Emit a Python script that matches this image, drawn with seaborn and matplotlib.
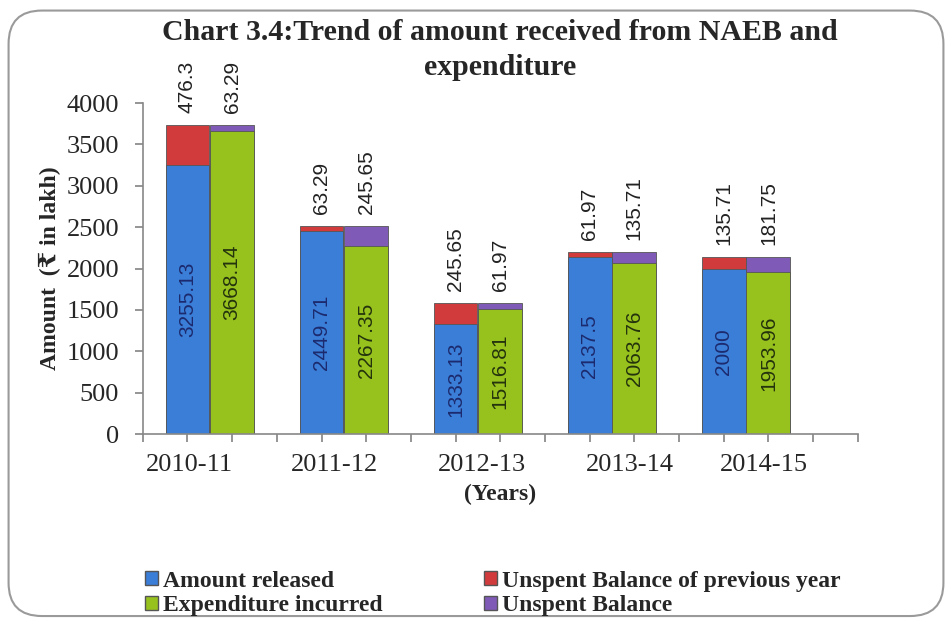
import matplotlib
matplotlib.use("Agg")
import matplotlib.pyplot as plt
from matplotlib.patches import FancyBboxPatch, Patch
import seaborn as sns
import pandas as pd
import numpy as np

# data (Rs in lakh)
years = ["2010-11", "2011-12", "2012-13", "2013-14", "2014-15"]
amount_released = [3255.13, 2449.71, 1333.13, 2137.5, 2000]
unspent_prev = [476.3, 63.29, 245.65, 61.97, 135.71]
expenditure = [3668.14, 2267.35, 1516.81, 2063.76, 1953.96]
unspent_bal = [63.29, 245.65, 61.97, 135.71, 181.75]
y_ticks = [0, 500, 1000, 1500, 2000, 2500, 3000, 3500, 4000]

BLUE = "#3b7ed8"
RED = "#d23b3b"
GREEN = "#97c21e"
PURPLE = "#7f5ab6"

serif = ["Liberation Serif", "DejaVu Serif", "DejaVu Sans"]
narrow = ["Liberation Sans Narrow", "Liberation Sans", "DejaVu Sans"]

sns.set_theme(style="white")
plt.rcParams["font.family"] = serif

# each year gets two bar slots and one empty slot
n = len(years)
left_pos = [1 + 3 * i for i in range(n)]
right_pos = [2 + 3 * i for i in range(n)]
df = pd.DataFrame({
    "year": years,
    "lpos": left_pos,
    "rpos": right_pos,
    "released": amount_released,
    "prev": unspent_prev,
    "exp": expenditure,
    "bal": unspent_bal,
})
df["ltotal"] = df["released"] + df["prev"]
df["rtotal"] = df["exp"] + df["bal"]

fig = plt.figure(figsize=(9.52, 6.21), dpi=100)
ax = fig.add_axes([0.150, 0.301, 0.751, 0.533])

# native_scale width is relative to the spacing (3) of positions in one call
kw = dict(native_scale=True, width=0.98 / 3, edgecolor="#555555", linewidth=0.6,
          saturation=1, ax=ax)
sns.barplot(data=df, x="lpos", y="ltotal", color=RED, **kw)
sns.barplot(data=df, x="lpos", y="released", color=BLUE, **kw)
sns.barplot(data=df, x="rpos", y="rtotal", color=PURPLE, **kw)
sns.barplot(data=df, x="rpos", y="exp", color=GREEN, **kw)

# value labels
for _, r in df.iterrows():
    ax.text(r.lpos, r.released / 2, f"{r.released:g}", rotation=90, ha="center",
            va="center", fontsize=15, color="#1c2b6e", family=narrow)
    ax.text(r.rpos, r.exp / 2, f"{r.exp:g}", rotation=90, ha="center",
            va="center", fontsize=15, color="#24330c", family=narrow)
    ax.annotate(f"{r.prev:g}", (r.lpos, r.ltotal), xytext=(0, 9),
                textcoords="offset points", rotation=90, ha="center", va="bottom",
                fontsize=15, color="#222222", family=narrow)
    ax.annotate(f"{r.bal:g}", (r.rpos, r.rtotal), xytext=(0, 9),
                textcoords="offset points", rotation=90, ha="center", va="bottom",
                fontsize=15, color="#222222", family=narrow)

ax.set_xlim(0, 16)
ax.set_ylim(0, 4000)
ax.set_yticks(y_ticks)
ax.set_yticklabels([str(t) for t in y_ticks], fontsize=19)
ax.set_xticks(np.arange(0, 17))
ax.set_xticklabels([])
ax.set_xticks([1.05, 4.3, 7.6, 10.9, 13.9], minor=True)
ax.set_xticklabels(years, minor=True, fontsize=19)
ax.tick_params(axis="x", which="major", direction="out", length=6, color="#888888",
               bottom=True)
ax.tick_params(axis="x", which="minor", length=0, pad=14)
ax.tick_params(axis="y", direction="out", length=6, color="#888888", left=True, pad=11)
for s in ["top", "right"]:
    ax.spines[s].set_visible(False)
for s in ["left", "bottom"]:
    ax.spines[s].set_color("#888888")
    ax.spines[s].set_linewidth(1.2)

ax.set_xlabel("(Years)", fontsize=17, fontweight="bold", labelpad=6)
ax.set_ylabel("Amount  (\u20b9 in lakh)", fontsize=17, fontweight="bold", labelpad=4)

# title, one text per line
fig.text(0.525, 0.947, "Chart 3.4:Trend of amount received from NAEB and",
         ha="center", va="center", fontsize=21.5, fontweight="bold")
fig.text(0.525, 0.891, "expenditure",
         ha="center", va="center", fontsize=21.5, fontweight="bold")

handles = [Patch(facecolor=BLUE, edgecolor="#555555"),
           Patch(facecolor=GREEN, edgecolor="#555555"),
           Patch(facecolor=RED, edgecolor="#555555"),
           Patch(facecolor=PURPLE, edgecolor="#555555")]
labels = ["Amount released", "Expenditure incurred",
          "Unspent Balance of previous year", "Unspent Balance"]
fig.legend(handles, labels, ncol=2, loc="upper left",
           bbox_to_anchor=(0.14, 0.1), frameon=False,
           prop={"family": serif, "weight": "bold", "size": 17},
           handlelength=0.55, handleheight=0.55, handletextpad=0.2,
           columnspacing=4.3, labelspacing=0.15, borderpad=0)

# rounded outer frame
frame = FancyBboxPatch((0.009, 0.008), 0.982, 0.975,
                       boxstyle="round,pad=0,rounding_size=0.035",
                       mutation_aspect=952 / 621,
                       transform=fig.transFigure, facecolor="none",
                       edgecolor="#9a9a9a", linewidth=1.5, zorder=0)
fig.patches.append(frame)

fig.savefig("out.png", dpi=100)
